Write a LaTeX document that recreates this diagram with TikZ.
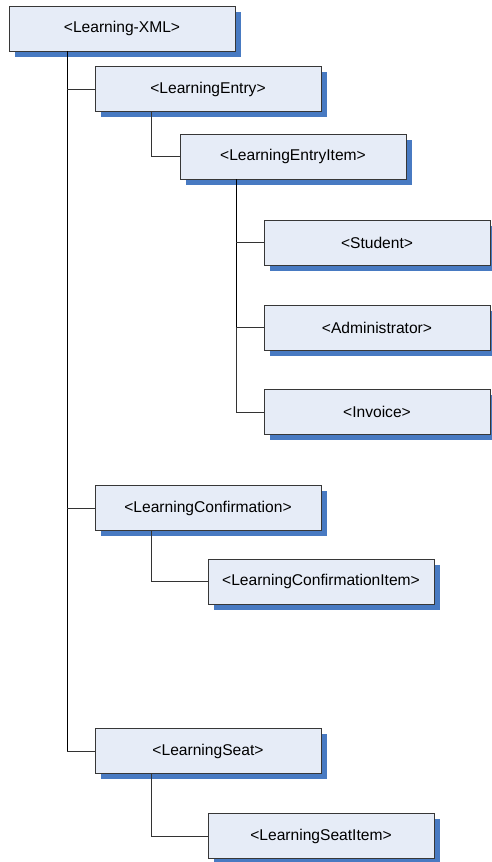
\documentclass[tikz,border=0pt]{standalone}
\usepackage{fontspec}
\setmainfont{Liberation Sans}
\usepackage{tikz}
\usetikzlibrary{shadows,positioning}
\definecolor{boxfill}{RGB}{230,236,247}
\definecolor{shadowblue}{RGB}{72,122,194}
\definecolor{edgegray}{RGB}{55,55,55}

\begin{document}
\begin{tikzpicture}[x=1pt,y=-1pt,
    tag/.style={draw=edgegray,line width=0.9pt,fill=boxfill,
      minimum width=226pt,minimum height=45pt,inner sep=0pt,
      font=\fontsize{15.6}{18}\selectfont,
      drop shadow={shadow xshift=5.5pt,shadow yshift=-5.5pt,fill=shadowblue,opacity=1}},
    trunk/.style={line width=0.95pt,black},
    branch/.style={line width=0.8pt,black!80}]
    \useasboundingbox (0,0) rectangle (491,862);
    % drop lines of the tree
    \coordinate (rootdrop) at (67,0);
    \coordinate (entrydrop) at (151,0);
    \coordinate (itemdrop) at (236,0);
    % elements
    \node[tag] (root) at (122,28.5) {<Learning-XML>};
    \node[tag] (entry) at (208,89) {<LearningEntry>};
    \node[tag] (entryitem) at (293,156.5) {<LearningEntryItem>};
    \node[tag] (student) at (377,242.5) {<Student>};
    \node[tag] (admin) at (377,327.5) {<Administrator>};
    \node[tag] (invoice) at (377,412) {<Invoice>};
    \node[tag] (confirm) at (208,508) {<LearningConfirmation>};
    \node[tag] (confirmitem) at (321,581.5) {<LearningConfirmationItem>};
    \node[tag] (seat) at (208,751) {<LearningSeat>};
    \node[tag] (seatitem) at (321,836) {<LearningSeatItem>};
    % root level
    \draw[trunk] (root.south -| rootdrop) -- (seat.west -| rootdrop);
    \draw[branch] (entry.west -| rootdrop) -- (entry.west);
    \draw[branch] (confirm.west -| rootdrop) -- (confirm.west);
    \draw[branch] (seat.west -| rootdrop) -- (seat.west);
    % entry level
    \draw[branch] (entry.south -| entrydrop) |- (entryitem.west);
    \draw[trunk] (entryitem.south -| itemdrop) -- (admin.west -| itemdrop);
    \draw[branch] (admin.west -| itemdrop) |- (invoice.west);
    \draw[branch] (student.west -| itemdrop) -- (student.west);
    \draw[branch] (admin.west -| itemdrop) -- (admin.west);
    % confirmation and seat level
    \draw[branch] (confirm.south -| entrydrop) |- (confirmitem.west);
    \draw[branch] (seat.south -| entrydrop) |- (seatitem.west);
\end{tikzpicture}
\end{document}
